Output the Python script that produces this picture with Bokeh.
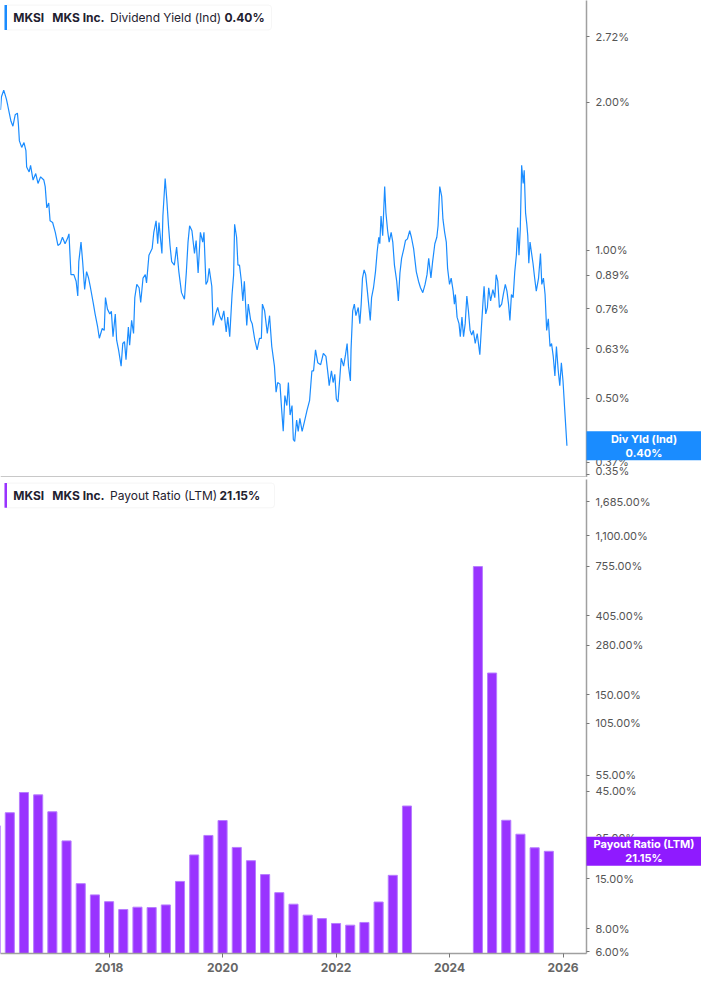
from bokeh.plotting import figure
from bokeh.layouts import column
from bokeh.models import (FixedTicker, CustomJSTickFormatter, PrintfTickFormatter,
                          Range1d, Label, BoxAnnotation, Span)
from bokeh.core.properties import value
from bokeh.embed import file_html
from bokeh.resources import INLINE

FONT = "Inter"

# ---------------- data ----------------
yield_years = [
    2016.086, 2016.103, 2016.143, 2016.167, 2016.190, 2016.212, 2016.241, 2016.271, 2016.305, 2016.345,
    2016.384, 2016.402, 2016.419, 2016.460, 2016.500, 2016.534, 2016.547, 2016.591, 2016.616, 2016.660,
    2016.707, 2016.747, 2016.793, 2016.850, 2016.874, 2016.902, 2016.936, 2016.960, 2017.005, 2017.052,
    2017.098, 2017.138, 2017.178, 2017.224, 2017.264, 2017.293, 2017.328, 2017.379, 2017.419, 2017.448,
    2017.466, 2017.505, 2017.534, 2017.569, 2017.603, 2017.638, 2017.672, 2017.724, 2017.753, 2017.798,
    2017.828, 2017.879, 2017.914, 2017.936, 2017.971, 2018.012, 2018.040, 2018.069, 2018.109, 2018.133,
    2018.167, 2018.212, 2018.241, 2018.271, 2018.298, 2018.340, 2018.362, 2018.397, 2018.431, 2018.453,
    2018.488, 2018.529, 2018.557, 2018.598, 2018.638, 2018.660, 2018.702, 2018.759, 2018.788, 2018.828,
    2018.857, 2018.879, 2018.931, 2018.948, 2018.988, 2019.017, 2019.047, 2019.074, 2019.103, 2019.150,
    2019.190, 2019.229, 2019.276, 2019.328, 2019.362, 2019.391, 2019.419, 2019.460, 2019.505, 2019.534,
    2019.569, 2019.609, 2019.650, 2019.672, 2019.707, 2019.736, 2019.764, 2019.810, 2019.833, 2019.879,
    2019.914, 2019.948, 2019.983, 2020.022, 2020.064, 2020.091, 2020.126, 2020.167, 2020.195, 2020.212,
    2020.247, 2020.271, 2020.298, 2020.328, 2020.357, 2020.384, 2020.426, 2020.453, 2020.495, 2020.522,
    2020.569, 2020.609, 2020.650, 2020.684, 2020.702, 2020.741, 2020.788, 2020.828, 2020.867, 2020.914,
    2020.943, 2020.971, 2021.012, 2021.040, 2021.069, 2021.098, 2021.133, 2021.160, 2021.190, 2021.224,
    2021.247, 2021.271, 2021.305, 2021.333, 2021.362, 2021.402, 2021.443, 2021.488, 2021.534, 2021.574,
    2021.603, 2021.638, 2021.678, 2021.729, 2021.776, 2021.822, 2021.862, 2021.879, 2021.919, 2021.948,
    2021.978, 2022.005, 2022.034, 2022.064, 2022.091, 2022.133, 2022.167, 2022.195, 2022.219, 2022.253,
    2022.264, 2022.293, 2022.322, 2022.350, 2022.391, 2022.419, 2022.443, 2022.466, 2022.495, 2022.522,
    2022.552, 2022.569, 2022.603, 2022.626, 2022.660, 2022.695, 2022.724, 2022.753, 2022.771, 2022.793,
    2022.822, 2022.857, 2022.879, 2022.909, 2022.936, 2022.971, 2023.000, 2023.029, 2023.069, 2023.098,
    2023.126, 2023.155, 2023.195, 2023.224, 2023.259, 2023.298, 2023.328, 2023.367, 2023.414, 2023.453,
    2023.488, 2023.529, 2023.569, 2023.603, 2023.633, 2023.672, 2023.702, 2023.741, 2023.776, 2023.798,
    2023.828, 2023.862, 2023.884, 2023.914, 2023.943, 2023.966, 2024.000, 2024.029, 2024.064, 2024.086,
    2024.103, 2024.133, 2024.167, 2024.190, 2024.219, 2024.247, 2024.276, 2024.305, 2024.333, 2024.362,
    2024.391, 2024.419, 2024.453, 2024.488, 2024.534, 2024.564, 2024.591, 2024.609, 2024.638, 2024.667,
    2024.690, 2024.724, 2024.764, 2024.798, 2024.822, 2024.850, 2024.879, 2024.919, 2024.948, 2024.983,
    2025.012, 2025.040, 2025.064, 2025.091, 2025.121, 2025.150, 2025.178, 2025.202, 2025.224, 2025.247,
    2025.271, 2025.298, 2025.316, 2025.340, 2025.362, 2025.379, 2025.397, 2025.419, 2025.443, 2025.471,
    2025.500, 2025.529, 2025.569, 2025.603, 2025.626, 2025.655, 2025.684, 2025.712, 2025.741, 2025.771,
    2025.798, 2025.828, 2025.857, 2025.884, 2025.914, 2025.943, 2025.971, 2026.000, 2026.029, 2026.069,
]
yield_pct = [
    1.931, 2.054, 2.117, 2.075, 2.031, 1.976, 1.902, 1.831, 1.789, 1.887,
    1.902, 1.802, 1.670, 1.620, 1.657, 1.595, 1.477, 1.444, 1.489, 1.390,
    1.433, 1.368, 1.411, 1.390, 1.348, 1.220, 1.248, 1.148, 1.139, 1.088,
    1.023, 1.031, 1.063, 1.031, 1.055, 1.080, 0.892, 0.892, 0.865, 0.807,
    0.948, 1.039, 0.948, 0.832, 0.905, 0.878, 0.839, 0.777, 0.742, 0.698,
    0.662, 0.693, 0.687, 0.801, 0.759, 0.742, 0.751, 0.667, 0.742, 0.656,
    0.627, 0.581, 0.646, 0.652, 0.599, 0.698, 0.641, 0.720, 0.677, 0.801,
    0.852, 0.839, 0.783, 0.878, 0.892, 0.858, 0.977, 1.008, 1.088, 1.148,
    1.031, 1.139, 0.985, 1.174, 1.400, 1.268, 1.122, 1.023, 0.948, 0.933,
    1.015, 0.905, 0.820, 0.795, 0.905, 1.039, 1.122, 1.096, 0.985, 1.047,
    0.899, 1.088, 1.039, 1.088, 0.852, 0.865, 0.919, 0.845, 0.703, 0.742,
    0.765, 0.736, 0.720, 0.753, 0.682, 0.731, 0.667, 0.813, 0.892, 1.130,
    1.063, 0.933, 0.933, 0.871, 0.789, 0.865, 0.703, 0.777, 0.720, 0.709,
    0.656, 0.627, 0.662, 0.662, 0.777, 0.753, 0.677, 0.736, 0.637, 0.581,
    0.514, 0.538, 0.534, 0.476, 0.428, 0.506, 0.483, 0.538, 0.462, 0.483,
    0.412, 0.408, 0.451, 0.428, 0.455, 0.428, 0.448, 0.472, 0.495, 0.568,
    0.568, 0.627, 0.590, 0.585, 0.617, 0.608, 0.555, 0.530, 0.568, 0.538,
    0.559, 0.498, 0.491, 0.546, 0.603, 0.581, 0.613, 0.646, 0.581, 0.542,
    0.627, 0.753, 0.777, 0.736, 0.765, 0.709, 0.777, 0.878, 0.912, 0.892,
    0.826, 0.789, 0.720, 0.801, 0.839, 0.905, 0.992, 1.063, 1.031, 1.174,
    1.071, 1.348, 1.192, 1.096, 1.039, 1.088, 1.039, 0.933, 0.865, 0.789,
    0.899, 0.963, 1.008, 1.047, 1.055, 1.096, 1.063, 1.008, 0.905, 0.865,
    0.839, 0.820, 0.852, 0.892, 0.963, 0.878, 0.948, 1.031, 1.063, 1.122,
    1.348, 1.287, 1.157, 1.088, 1.039, 0.919, 0.852, 0.878, 0.826, 0.777,
    0.813, 0.731, 0.709, 0.667, 0.731, 0.667, 0.709, 0.807, 0.753, 0.687,
    0.672, 0.687, 0.646, 0.677, 0.613, 0.703, 0.789, 0.845, 0.742, 0.765,
    0.839, 0.789, 0.832, 0.801, 0.892, 0.865, 0.765, 0.777, 0.813, 0.852,
    0.826, 0.777, 0.720, 0.813, 0.801, 0.905, 0.977, 1.113, 0.977, 1.105,
    1.489, 1.368, 1.455, 1.192, 1.130, 1.071, 0.941, 1.039, 0.992, 0.941,
    0.878, 0.826, 0.878, 0.985, 0.852, 0.878, 0.813, 0.687, 0.725, 0.637,
    0.646, 0.608, 0.555, 0.637, 0.572, 0.530, 0.590, 0.542, 0.476, 0.400,
]

payout_years = [
    2016.00, 2016.25, 2016.50, 2016.75, 2017.00, 2017.25, 2017.50, 2017.75,
    2018.00, 2018.25, 2018.50, 2018.75, 2019.00, 2019.25, 2019.50, 2019.75,
    2020.00, 2020.25, 2020.50, 2020.75, 2021.00, 2021.25, 2021.50, 2021.75,
    2022.00, 2022.25, 2022.50, 2022.75, 2023.00, 2023.25,
    2024.50, 2024.75, 2025.00, 2025.25, 2025.50, 2025.75,
]
payout_pct = [
    29.1, 34.3, 44.2, 42.9, 34.7, 24.1, 14.1, 12.25,
    11.25, 10.2, 10.5, 10.45, 10.8, 14.5, 20.2, 25.8,
    31.1, 22.2, 18.8, 15.8, 12.6, 10.9, 9.5, 9.1,
    8.56, 8.38, 8.67, 11.2, 15.65, 37.3,
    750.0, 197.5, 31.2, 26.2, 22.1, 21.15,
]

yield_ticks = [0.35, 0.37, 0.50, 0.63, 0.76, 0.89, 1.00, 2.00, 2.72]
payout_ticks = [6, 8, 15, 25, 45, 55, 105, 150, 280, 405, 755, 1100, 1685]
year_ticks = [2018, 2020, 2022, 2024, 2026]

ticker_symbol = "MKSI"
company = "MKS Inc."
top_metric = "Dividend Yield (Ind)"
top_value = "0.40%"
top_tag = "Div Yld (Ind)"
bottom_metric = "Payout Ratio (LTM)"
bottom_value = "21.15%"
bottom_tag = "Payout Ratio (LTM)"

BLUE = "#1a8cff"
PURPLE = "#9933ff"
TAG_PURPLE = "#8f1aff"
TEXT = "#1f2230"
AXIS = "#a0a0a0"
LABEL = "#555555"

X_START, X_END = 2016.086, 2026.414
Y1 = (0.3447, 3.225)
Y2 = (5.876, 2233.0)
FW = 586
RIGHT = 115
FH1 = 477
FH2 = 474
GAP = 2
TAG_H = 29

pct_fmt = CustomJSTickFormatter(code="""
return tick.toLocaleString('en-US', {minimumFractionDigits: 2, maximumFractionDigits: 2}) + '%';
""")


def style_y(p, ticks):
    ax = p.yaxis[0]
    ax.ticker = FixedTicker(ticks=ticks)
    ax.formatter = pct_fmt
    ax.axis_line_color = AXIS
    ax.axis_line_width = 1.5
    ax.major_tick_line_color = "#777777"
    ax.major_tick_in = 0
    ax.major_tick_out = 3
    ax.minor_tick_line_color = None
    ax.major_label_standoff = 6
    ax.major_label_text_font = FONT
    ax.major_label_text_font_size = "11px"
    ax.major_label_text_color = LABEL


def base_fig(fh, yrange, border_top, border_bottom, x_loc):
    p = figure(frame_width=FW, frame_height=fh,
               x_range=Range1d(X_START, X_END), y_range=yrange,
               y_axis_type="log", y_axis_location="right", x_axis_location=x_loc,
               output_backend="svg", toolbar_location=None,
               min_border_left=0, min_border_right=RIGHT,
               min_border_top=border_top, min_border_bottom=border_bottom,
               background_fill_color="white", border_fill_color="white",
               background_fill_alpha=0, border_fill_alpha=0,
               outline_line_color=None)
    p.xgrid.grid_line_color = None
    p.ygrid.grid_line_color = None
    return p


def legend(p, fh, top_px, bottom_px, right_px, color, metric, val, val_x):
    box = BoxAnnotation(left=4, right=right_px, top=fh - top_px, bottom=fh - bottom_px,
                        left_units="screen", right_units="screen",
                        top_units="screen", bottom_units="screen",
                        fill_color="white", fill_alpha=1.0,
                        line_color="#e2e2e2", line_width=1, border_radius=3)
    strip = BoxAnnotation(left=4, right=6.5, top=fh - top_px, bottom=fh - bottom_px,
                          left_units="screen", right_units="screen",
                          top_units="screen", bottom_units="screen",
                          fill_color=color, fill_alpha=1.0, line_color=None)
    p.add_layout(box)
    p.add_layout(strip)
    yc = fh - (top_px + bottom_px) / 2.0
    items = [(12.7, ticker_symbol, "bold"), (51.8, company, "bold"),
             (109.5, metric, "normal"), (val_x, val, "bold")]
    for x, txt, style in items:
        p.add_layout(Label(x=x, y=yc, x_units="screen", y_units="screen", text=txt,
                           text_font=FONT, text_font_size="12px", text_font_style=style,
                           text_color=TEXT, text_baseline="middle", text_align="left"))


# overlay x range continues the chart's time axis across the right-hand axis strip
OX_END = X_START + (X_END - X_START) * (FW + RIGHT) / FW


def tag_layer(height, yrange, last_value, color, line1, line2, margin, styles):
    o = figure(width=FW + RIGHT, height=height,
               x_range=Range1d(X_START, OX_END), y_range=yrange, y_axis_type="log",
               x_axis_location=None, y_axis_location=None,
               output_backend="svg", toolbar_location=None,
               min_border=0, outline_line_color=None,
               background_fill_alpha=0, border_fill_alpha=0,
               frame_align=False, margin=margin, styles=styles)
    o.xgrid.grid_line_color = None
    o.ygrid.grid_line_color = None
    cx = (X_END + OX_END) / 2.0
    o.rect(x=[cx], y=[last_value], width=[OX_END - X_END], height=TAG_H,
           height_units="screen", fill_color=color, line_color=None)
    o.text(x=[cx], y=[last_value], text=[line1 + "\n" + line2],
           text_font=value(FONT), text_font_size="11px", text_font_style="bold",
           text_color="white", text_align="center", text_baseline="middle",
           text_line_height=1.0)
    return o


# ---------------- top: dividend yield ----------------
y1 = Range1d(*Y1)
top = base_fig(FH1, y1, 0, 0, None)
top.line(yield_years, yield_pct, line_color=BLUE, line_width=1.2)
style_y(top, yield_ticks)
top.add_layout(Span(location=Y1[0], dimension="width", line_color="#c8c8c8", line_width=3))
legend(top, FH1, 4.6, 29.4, 271, BLUE, top_metric, top_value, 224)

# laid after the chart and pulled back up over it
ov_top = tag_layer(FH1, y1, yield_pct[-1], BLUE, top_tag, top_value,
                   (-FH1, 0, 0, 0), {"z-index": "10"})

# ---------------- bottom: payout ratio ----------------
y2 = Range1d(*Y2)
bot = base_fig(FH2, y2, GAP, 28, "below")
bot.vbar(x=payout_years, top=payout_pct, bottom=1.0, width=0.16,
         fill_color=PURPLE, line_color="#b77dff", line_width=1)
style_y(bot, payout_ticks)
bx = bot.xaxis[0]
bx.ticker = FixedTicker(ticks=year_ticks)
bx.formatter = PrintfTickFormatter(format="%d")
bx.axis_line_color = AXIS
bx.axis_line_width = 1.5
bx.major_tick_line_color = "#777777"
bx.major_tick_in = 0
bx.major_tick_out = 4
bx.minor_tick_line_color = None
bx.major_label_standoff = 5
bx.major_label_text_font = FONT
bx.major_label_text_font_size = "12px"
bx.major_label_text_font_style = "bold"
bx.major_label_text_color = "#666666"
legend(bot, FH2, 3.6, 28.3, 274, PURPLE, bottom_metric, bottom_value, 219)

# laid before the chart; negative bottom margin lets the chart start at the same place
ov_bot = tag_layer(FH2, y2, payout_pct[-1], TAG_PURPLE, bottom_tag, bottom_value,
                   (GAP, 0, -(FH2 + GAP), 0), {"z-index": "10"})

layout = column(top, ov_top, ov_bot, bot, spacing=0)
open("out.html", "w").write(file_html(layout, INLINE))
